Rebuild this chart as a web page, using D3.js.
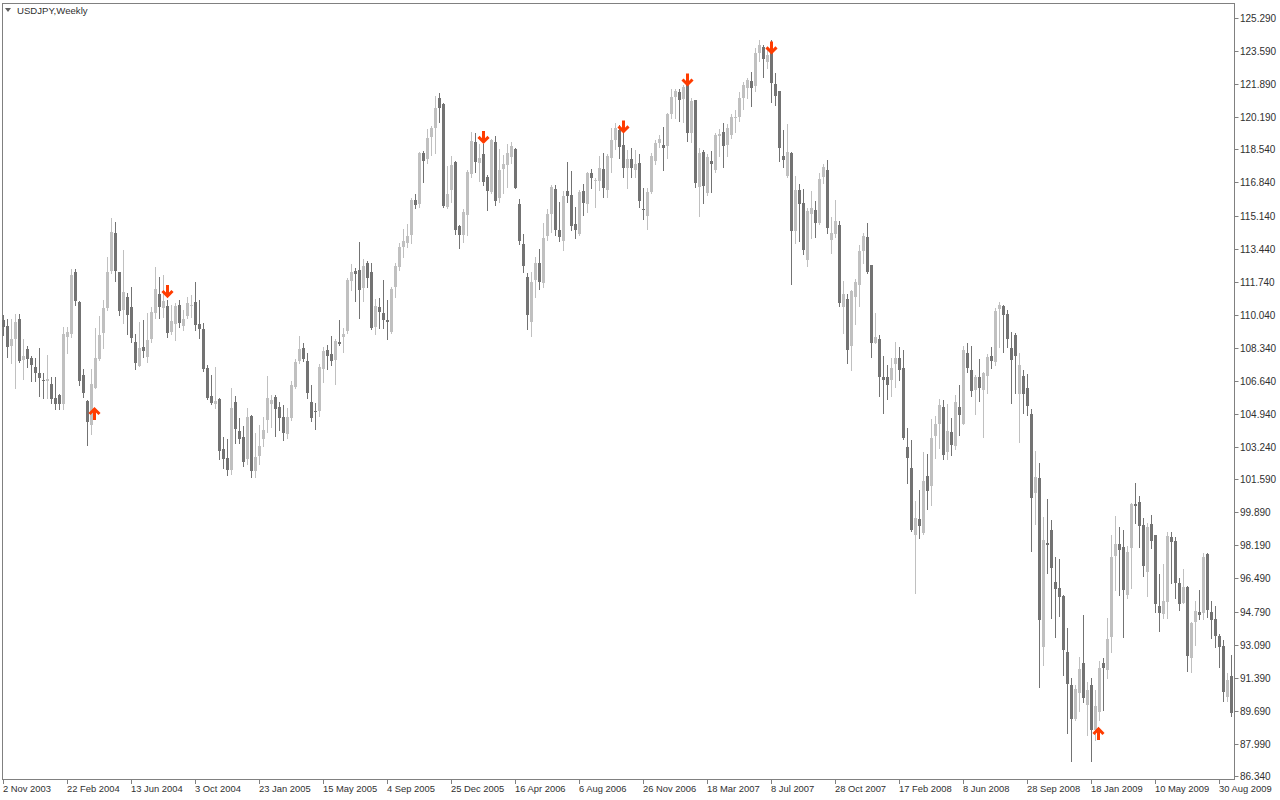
<!DOCTYPE html>
<html>
<head>
<meta charset="utf-8">
<script src="https://cdn.jsdelivr.net/npm/d3@7"></script>
<style>
html,body{margin:0;padding:0;background:#fff;}
svg{display:block;}
text{font-family:"Liberation Sans",Arial,sans-serif;}
</style>
</head>
<body>
<svg id="chart" width="1280" height="800"></svg>
<script>
// ---- data ----
const chartTitle = "USDJPY,Weekly";
const dateTickIndex = [0,16,32,48,64,80,96,112,128,144,160,176,192,208,224,240,256,272,288,304];
const dateTickLabels = ["2 Nov 2003","22 Feb 2004","13 Jun 2004","3 Oct 2004","23 Jan 2005","15 May 2005","4 Sep 2005","25 Dec 2005","16 Apr 2006","6 Aug 2006","26 Nov 2006","18 Mar 2007","8 Jul 2007","28 Oct 2007","17 Feb 2008","8 Jun 2008","28 Sep 2008","18 Jan 2009","10 May 2009","30 Aug 2009"];
const priceTicks = [125.290,123.590,121.890,120.190,118.540,116.840,115.140,113.440,111.740,110.040,108.340,106.640,104.940,103.240,101.590,99.890,98.190,96.490,94.790,93.090,91.390,89.690,87.990,86.340];
// weekly candles [open, high, low, close]
const weeklyOHLC = [
[109.77,110.03,109.00,109.40],[109.46,109.82,107.88,108.37],[108.40,109.82,107.55,108.78],[108.81,110.06,106.27,109.67],
[109.82,110.06,107.60,107.68],[107.75,108.79,106.72,107.93],[108.28,108.44,107.37,107.78],[107.82,107.92,106.65,107.46],
[107.37,107.80,106.65,107.06],[107.05,108.33,105.88,106.80],[106.68,107.03,105.75,106.64],[106.65,107.97,105.75,106.74],
[106.50,106.86,105.49,105.73],[105.75,106.86,105.20,105.46],[105.92,105.95,105.18,105.46],[105.46,109.43,105.18,109.05],
[108.91,109.43,108.06,109.16],[109.05,112.38,108.91,112.08],[112.24,112.38,110.54,110.76],[110.70,110.75,106.43,106.65],
[106.94,107.27,105.83,106.03],[105.61,105.66,103.35,104.55],[104.39,107.27,103.91,106.50],[106.29,109.34,106.26,107.82],
[107.78,109.98,107.72,109.00],[109.10,110.80,108.33,110.39],[110.40,113.02,110.28,112.25],[112.29,114.99,112.17,114.28],
[114.23,114.79,111.79,112.29],[112.22,112.24,110.03,110.20],[110.28,113.37,109.60,111.23],[110.95,111.14,109.05,110.03],
[110.44,111.48,108.66,108.86],[108.64,109.05,107.24,107.58],[107.42,109.68,107.40,108.35],[108.40,109.77,107.88,108.19],
[107.88,110.15,107.63,108.74],[108.79,110.45,108.66,110.20],[110.15,112.51,109.86,111.36],[111.11,111.99,109.86,110.45],
[110.42,112.08,109.94,110.76],[110.49,110.80,108.91,109.12],[109.16,110.54,109.05,109.72],[109.56,110.63,108.74,110.49],
[110.54,110.80,109.43,109.63],[109.50,110.28,109.26,109.84],[109.94,110.94,109.86,110.63],[110.50,111.06,109.94,110.53],
[110.70,111.74,109.26,109.51],[109.57,110.80,108.83,109.32],[109.31,109.60,107.17,107.25],[107.32,107.46,105.71,105.78],
[105.87,106.94,105.46,105.52],[105.44,107.34,105.27,105.61],[105.71,105.74,102.63,103.05],[103.14,103.74,102.15,102.61],
[102.68,103.64,101.81,102.06],[102.06,106.29,101.86,105.25],[105.56,105.87,103.44,104.17],[104.07,104.74,103.44,103.66],
[103.77,104.32,102.28,102.49],[102.63,105.25,102.36,104.80],[104.84,104.89,101.72,102.03],[102.03,103.95,101.72,102.73],
[102.80,104.36,102.36,103.30],[103.67,104.80,103.30,104.12],[104.63,106.89,104.03,105.76],[105.47,105.90,104.29,105.66],
[105.81,105.92,103.82,105.21],[105.30,105.57,104.12,104.75],[104.79,105.40,103.62,103.97],[103.93,105.23,103.69,104.79],
[104.75,106.64,104.63,106.43],[106.34,107.77,106.30,107.61],[107.68,108.97,107.58,108.28],[108.32,108.57,107.66,107.77],
[107.66,108.09,105.78,106.03],[105.56,106.43,104.60,104.75],[105.10,105.49,104.19,105.08],[105.11,107.49,104.85,107.37],
[107.27,108.37,106.57,108.19],[108.23,108.49,107.24,107.92],[108.02,108.95,107.46,107.68],[107.72,108.78,106.48,108.69],
[108.64,109.77,108.49,108.55],[108.91,109.37,108.14,109.05],[109.22,111.91,109.12,111.83],[111.79,112.65,111.31,112.24],
[112.30,112.46,110.75,112.13],[112.34,113.78,109.89,111.31],[111.43,112.89,110.75,112.55],[112.70,112.80,111.48,111.94],
[112.24,112.72,109.32,109.38],[109.43,110.85,109.03,110.49],[110.44,110.89,109.38,110.20],[110.13,111.83,109.34,109.77],
[109.77,110.80,108.78,109.68],[109.16,111.48,109.09,111.36],[111.48,112.69,110.97,112.55],[112.46,113.71,112.34,113.51],
[113.51,114.43,113.02,113.83],[113.74,114.69,113.54,114.10],[114.14,116.02,113.74,115.94],[115.94,116.25,115.51,115.70],
[115.73,118.40,115.56,118.37],[118.37,118.47,116.88,117.96],[118.04,119.59,117.85,119.11],[119.19,119.74,118.25,119.65],
[119.65,121.30,118.34,120.68],[121.18,121.44,119.96,120.66],[120.87,120.90,115.59,115.63],[115.59,117.69,115.51,116.25],
[116.45,118.20,115.85,117.74],[117.91,117.93,114.19,114.40],[114.60,114.65,113.46,114.14],[114.12,115.46,113.80,115.32],
[115.17,117.48,114.14,117.38],[117.29,119.45,117.13,118.97],[118.90,119.37,117.39,117.85],[117.82,118.80,116.92,118.10],
[118.30,118.82,116.71,116.88],[117.10,117.22,115.42,116.37],[116.37,119.06,116.31,119.02],[118.92,119.23,115.68,115.90],
[116.02,118.54,115.85,117.48],[117.53,118.25,116.28,117.77],[117.77,118.82,116.62,118.37],[118.16,118.92,117.82,118.71],
[118.56,118.63,116.54,116.57],[115.73,115.99,113.68,113.85],[113.68,114.18,112.25,112.56],[111.98,112.20,109.32,110.04],
[109.63,112.25,108.95,111.71],[111.83,113.02,110.97,112.68],[112.68,113.42,111.35,111.69],[111.66,114.77,111.48,113.99],
[114.09,115.49,113.88,115.20],[115.23,116.71,114.31,116.61],[116.50,116.71,114.14,114.40],[114.40,115.85,113.85,114.05],
[113.85,116.42,113.37,116.14],[116.40,117.89,115.85,116.16],[116.19,117.43,114.40,114.60],[114.70,115.56,113.97,114.40],
[114.19,116.45,114.14,116.37],[116.40,116.76,115.17,115.77],[115.77,117.39,115.34,117.34],[117.34,117.52,116.54,117.08],
[116.90,117.05,115.59,116.95],[116.93,118.20,116.45,117.58],[117.55,118.34,116.11,116.55],[116.45,118.29,116.11,118.21],
[118.11,119.62,117.39,119.02],[119.00,119.91,118.54,119.64],[119.54,119.79,118.08,118.66],[118.76,119.40,117.13,117.59],
[117.57,118.51,116.57,118.04],[118.06,118.59,117.13,117.59],[117.49,118.51,117.13,117.79],[117.84,118.29,115.59,115.90],
[115.49,116.54,114.95,115.45],[115.13,116.54,114.43,116.35],[116.37,118.34,116.28,118.20],[117.96,119.02,117.77,118.88],
[118.88,119.28,118.67,119.07],[118.76,119.70,117.48,118.61],[118.73,120.39,118.08,120.36],[120.34,121.63,120.14,121.23],
[121.23,121.66,120.14,121.54],[121.49,121.66,119.99,121.08],[121.13,121.85,119.96,121.73],[121.85,121.93,118.99,119.40],
[119.40,121.16,118.93,121.03],[121.08,121.10,116.59,116.80],[116.62,118.59,115.13,118.37],[118.42,118.51,115.77,116.67],
[116.28,118.30,116.19,118.13],[117.96,118.46,116.37,117.80],[117.48,119.40,117.39,119.28],[119.23,119.59,118.21,119.33],
[119.42,119.88,117.65,118.68],[118.76,119.83,118.21,119.65],[119.31,120.34,119.11,120.22],[120.14,120.56,119.45,120.20],
[120.22,121.47,119.99,121.20],[121.16,122.02,120.61,121.85],[121.71,122.19,121.19,122.10],[122.05,122.53,120.78,121.71],
[121.76,123.73,121.54,123.47],[123.47,124.16,123.08,123.90],[123.78,123.90,122.24,123.17],[123.05,123.73,122.71,123.39],
[123.65,124.16,120.99,121.94],[121.88,122.45,120.82,121.25],[121.54,121.56,117.94,118.63],[118.21,119.54,117.65,117.99],
[117.19,119.83,117.13,118.42],[118.37,118.40,111.61,114.34],[114.34,117.19,113.71,116.45],[116.45,116.74,113.83,115.75],
[115.80,116.49,113.15,113.37],[112.85,115.51,112.55,115.37],[115.20,116.42,113.97,115.53],[115.42,115.90,114.02,114.77],
[114.74,117.34,114.72,117.02],[117.13,117.79,116.79,117.65],[117.48,117.99,114.24,114.51],[113.92,115.08,113.23,114.26],
[114.18,115.94,114.05,114.87],[114.67,114.87,110.49,110.66],[110.45,111.78,109.12,111.11],[110.87,111.11,107.55,108.23],
[108.45,111.29,107.20,111.26],[110.97,111.86,109.55,111.72],[111.57,113.63,110.51,113.32],[113.33,114.26,112.72,114.09],
[114.05,114.77,112.20,112.25],[112.60,112.62,107.88,108.57],[108.61,110.15,108.57,108.91],[108.79,109.00,105.87,106.86],
[106.83,107.92,104.98,106.69],[106.83,107.46,105.70,106.43],[106.65,107.80,105.87,107.29],[107.51,108.63,106.34,107.80],
[107.80,108.37,106.69,107.17],[107.31,108.23,103.66,103.72],[103.23,104.24,101.41,102.64],[102.17,103.60,98.93,98.98],
[98.69,100.49,95.76,99.58],[99.55,101.04,98.55,99.20],[98.84,102.97,98.77,101.50],[101.76,102.88,100.04,101.00],
[101.26,104.68,100.27,103.71],[103.83,104.84,102.66,104.43],[104.44,105.73,103.21,105.40],[105.30,105.66,102.61,102.85],
[103.00,105.45,102.61,104.07],[104.03,104.72,102.83,103.35],[103.31,105.92,103.13,105.56],[105.32,106.43,103.86,104.89],
[104.44,108.44,104.43,108.23],[108.09,108.60,107.11,107.32],[107.20,108.44,105.87,106.14],[106.21,106.94,104.94,106.86],
[106.84,107.77,105.62,106.29],[106.14,107.11,103.78,107.03],[106.91,108.02,106.03,107.88],[107.92,108.40,107.29,107.68],
[107.63,110.37,107.46,110.25],[110.35,110.68,108.37,110.56],[110.49,110.54,108.14,110.03],[110.08,110.28,108.40,108.79],
[108.32,109.17,105.52,107.72],[109.00,109.12,106.00,107.94],[105.98,108.06,103.52,107.46],[106.89,107.20,105.01,105.98],
[106.26,107.00,104.89,105.32],[104.94,105.18,97.92,100.64],[100.90,103.06,99.27,101.70],[101.64,102.41,90.93,94.32],
[92.98,99.66,92.04,98.47],[98.30,100.57,96.76,98.21],[98.98,99.49,94.44,97.04],[96.29,97.61,93.50,95.95],
[95.98,97.47,94.56,95.50],[95.59,95.62,91.53,92.81],[92.73,93.93,88.53,91.10],[91.01,91.36,87.12,89.27],
[89.27,91.01,89.22,90.81],[90.59,92.47,89.70,91.84],[92.16,94.61,90.13,90.36],[89.99,91.18,88.45,90.76],
[91.01,91.36,87.12,88.70],[88.70,90.76,88.20,89.94],[89.64,92.27,89.22,91.90],[92.13,92.39,89.71,91.87],
[91.79,94.44,91.39,93.38],[93.50,98.72,92.70,97.61],[97.64,99.70,95.90,98.25],[98.26,99.15,95.64,97.95],
[98.09,98.98,93.50,95.90],[95.64,98.17,95.47,97.87],[98.07,100.38,95.98,100.32],[100.32,101.41,99.32,100.21],
[100.40,100.73,98.12,99.15],[99.24,99.58,96.63,97.15],[96.84,99.36,95.59,99.15],[99.29,99.75,98.04,98.41],
[98.72,98.74,94.75,95.17],[95.07,96.72,93.79,94.72],[94.67,97.23,94.44,95.33],[95.30,98.89,94.44,98.69],
[98.64,98.89,96.24,98.37],[98.43,98.61,95.47,96.27],[96.27,96.50,94.87,95.18],[95.25,96.96,95.24,96.07],
[96.07,96.10,91.73,92.50],[92.42,94.25,91.70,94.22],[94.27,95.35,93.07,94.83],[94.78,95.90,94.39,94.63],
[94.73,97.81,94.39,97.61],[97.75,97.81,94.49,94.87],[94.78,95.35,93.42,94.35],[94.41,95.07,92.98,93.53],
[93.55,93.63,91.96,92.98],[93.03,93.33,90.21,90.67],[90.42,91.65,90.21,91.27],[91.48,92.56,89.40,89.58]
];
// signal arrows [bar index, price at arrow tip]
const downArrows = [[41,110.90],[120,118.82],[155,119.36],[171,121.77],[192,123.42]];
const upArrows = [[23,105.30],[274,88.86]];

// ---- layout ----
const frame = {left:2, top:3, right:1234, bottom:779};
const upColor = "#c0c0c0", downColor = "#737373", arrowColor = "#ff3c00";
const axisColor = "#808080", textColor = "#303030";

const svg = d3.select("#chart");
svg.append("rect").attr("width",1280).attr("height",800).attr("fill","#fff");

const x = d3.scaleLinear().domain([0, weeklyOHLC.length - 1]).range([3.5, 3.5 + 4*(weeklyOHLC.length - 1)]);
const y = d3.scaleLinear().domain([86.34, 125.29]).range([776, 18]);

// frame
svg.append("rect")
  .attr("x", frame.left + 0.5).attr("y", frame.top + 0.5)
  .attr("width", frame.right - frame.left).attr("height", frame.bottom - frame.top)
  .attr("fill","none").attr("stroke", axisColor).attr("stroke-width",1)
  .attr("shape-rendering","crispEdges");

// candles
const g = svg.append("g").attr("shape-rendering","crispEdges");
const bars = g.selectAll("g.c").data(weeklyOHLC).join("g").attr("class","c");
bars.append("line")
  .attr("x1",(d,i)=>x(i)).attr("x2",(d,i)=>x(i))
  .attr("y1",d=>Math.round(y(d[1]))).attr("y2",d=>Math.round(y(d[2]))+1)
  .attr("stroke",d=>d[3]>=d[0]?upColor:downColor).attr("stroke-width",1);
bars.append("rect")
  .attr("x",(d,i)=>x(i)-1.5).attr("width",3)
  .attr("y",d=>Math.round(y(Math.max(d[0],d[3]))))
  .attr("height",d=>Math.max(1, Math.round(Math.abs(y(d[0])-y(d[3])))))
  .attr("fill",d=>d[3]>=d[0]?upColor:downColor);

// arrows
const ag = svg.append("g");
ag.selectAll("path.dn").data(downArrows).join("path").attr("class","dn")
  .attr("transform",d=>`translate(${x(d[0])},${y(d[1])})`)
  .attr("d","M0,-13 L0,-2 M-5,-7 L0,-2 L5,-7")
  .attr("fill","none").attr("stroke",arrowColor).attr("stroke-width",3)
  .attr("stroke-linejoin","miter");
ag.selectAll("path.up").data(upArrows).join("path").attr("class","up")
  .attr("transform",d=>`translate(${x(d[0])-1},${y(d[1])})`)
  .attr("d","M0,13 L0,2 M-5,7 L0,2 L5,7")
  .attr("fill","none").attr("stroke",arrowColor).attr("stroke-width",3)
  .attr("stroke-linejoin","miter");

// right price axis
const yAxis = svg.append("g");
yAxis.selectAll("line").data(priceTicks).join("line")
  .attr("x1",frame.right+0.5).attr("x2",frame.right+4.5)
  .attr("y1",d=>Math.round(y(d))+0.5).attr("y2",d=>Math.round(y(d))+0.5)
  .attr("stroke",axisColor);
yAxis.selectAll("text").data(priceTicks).join("text")
  .attr("x",frame.right+6).attr("y",d=>Math.round(y(d))+4)
  .attr("font-size","10px").attr("fill",textColor)
  .text(d=>d3.format(".3f")(d));

// bottom date axis
const xAxis = svg.append("g");
xAxis.selectAll("line").data(dateTickIndex).join("line")
  .attr("x1",d=>Math.floor(x(d))+0.5).attr("x2",d=>Math.floor(x(d))+0.5)
  .attr("y1",frame.bottom+0.5).attr("y2",frame.bottom+5)
  .attr("stroke",axisColor);
xAxis.selectAll("text").data(dateTickIndex).join("text")
  .attr("x",d=>x(d)-0.5).attr("y",792)
  .attr("font-size","9.4px").attr("fill",textColor)
  .text((d,i)=>dateTickLabels[i]);

// title
svg.append("path").attr("d","M5,8 L11,8 L8,12 Z").attr("fill","#606060");
svg.append("text").attr("x",17).attr("y",14).attr("font-size","9.6px").attr("fill",textColor).text(chartTitle);
</script>
</body>
</html>
